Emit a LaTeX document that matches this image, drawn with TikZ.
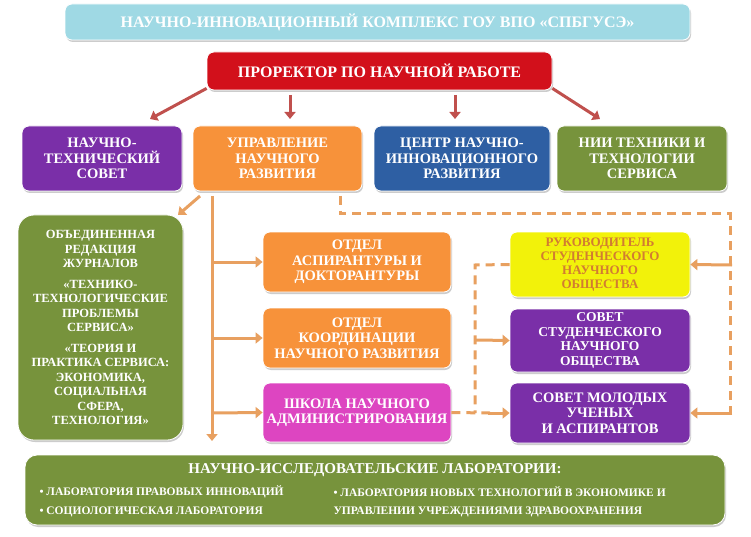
\documentclass[tikz,border=0pt]{standalone}
\usepackage{fontspec}
\setmainfont{Liberation Serif}
\usetikzlibrary{arrows.meta,shadows}
\definecolor{tit}{HTML}{9FD9E4}
\definecolor{redb}{HTML}{D2101B}
\definecolor{purp}{HTML}{7A2FA8}
\definecolor{orng}{HTML}{F7923A}
\definecolor{blu}{HTML}{2E5FA3}
\definecolor{grn}{HTML}{77933C}
\definecolor{pink}{HTML}{DD45C1}
\definecolor{yel}{HTML}{F2F20A}
\definecolor{arr}{HTML}{C0504D}
\definecolor{oarr}{HTML}{E8A060}
\begin{document}
\begin{tikzpicture}[x=1pt,y=-1pt,
 box/.style={draw=white,line width=0.8pt,rounded corners=7pt,text=white,font=\bfseries\fontsize{14.5}{15.5}\selectfont,align=center,drop shadow={shadow xshift=1pt,shadow yshift=-2pt,opacity=0.4},inner sep=2pt},
 rarr/.style={draw=arr,line width=3pt,-{Triangle[length=7pt,width=11pt]}},
 oline/.style={draw=oarr,line width=3pt},
 oar/.style={oline,-{Triangle[length=7pt,width=11pt]}},
 dl/.style={draw=oarr,line width=3pt,dash pattern=on 9pt off 6pt}]
\useasboundingbox (0,0) rectangle (751,537);
\fill[white] (0,0) rectangle (751,537);
\node[box,fill=tit,minimum width=625,minimum height=36,font=\bfseries\fontsize{16}{16}\selectfont] (t) at (377.5,22) {НАУЧНО-ИННОВАЦИОННЫЙ КОМПЛЕКС ГОУ ВПО «СПБГУСЭ»};
\node[box,fill=redb,minimum width=345,minimum height=38,font=\bfseries\fontsize{16}{16}\selectfont] (p) at (379.5,71) {ПРОРЕКТОР ПО НАУЧНОЙ РАБОТЕ};
\node[box,fill=purp,minimum width=160,minimum height=65] (a1) at (102,158.5) {НАУЧНО-\\ТЕХНИЧЕСКИЙ\\СОВЕТ};
\node[box,fill=orng,minimum width=169,minimum height=65] (a2) at (277.5,158.5) {УПРАВЛЕНИЕ\\НАУЧНОГО\\РАЗВИТИЯ};
\node[box,fill=blu,minimum width=176,minimum height=65] (a3) at (462,158.5) {ЦЕНТР НАУЧНО-\\ИННОВАЦИОННОГО\\РАЗВИТИЯ};
\node[box,fill=grn,minimum width=170,minimum height=65] (a4) at (642,158.5) {НИИ ТЕХНИКИ И\\ТЕХНОЛОГИИ\\СЕРВИСА};
\node[box,fill=grn,minimum width=165,minimum height=225,font=\bfseries\fontsize{12.5}{14.5}\selectfont,rounded corners=16pt] (g) at (100.5,327.5) {ОБЪЕДИНЕННАЯ\\РЕДАКЦИЯ\\ЖУРНАЛОВ\\[6pt]«ТЕХНИКО-\\ТЕХНОЛОГИЧЕСКИЕ\\ПРОБЛЕМЫ\\СЕРВИСА»\\[6pt]«ТЕОРИЯ И\\ПРАКТИКА СЕРВИСА:\\ЭКОНОМИКА,\\СОЦИАЛЬНАЯ\\СФЕРА,\\ТЕХНОЛОГИЯ»};
\node[box,fill=orng,minimum width=188,minimum height=60] (o1) at (357,262) {ОТДЕЛ\\АСПИРАНТУРЫ И\\ДОКТОРАНТУРЫ};
\node[box,fill=orng,minimum width=188,minimum height=60] (o2) at (357,338) {ОТДЕЛ\\КООРДИНАЦИИ\\НАУЧНОГО РАЗВИТИЯ};
\node[box,fill=pink,minimum width=188,minimum height=59] (o3) at (357,412.5) {ШКОЛА НАУЧНОГО\\АДМИНИСТРИРОВАНИЯ};
\node[box,fill=yel,text=orng!85!black,minimum width=180,minimum height=65,font=\bfseries\fontsize{13}{14}\selectfont] (s1) at (600,264.5) {РУКОВОДИТЕЛЬ\\СТУДЕНЧЕСКОГО\\НАУЧНОГО\\ОБЩЕСТВА};
\node[box,fill=purp,minimum width=180,minimum height=63,font=\bfseries\fontsize{13.5}{14.5}\selectfont] (s2) at (600,340.5) {СОВЕТ\\СТУДЕНЧЕСКОГО\\НАУЧНОГО\\ОБЩЕСТВА};
\node[box,fill=purp,minimum width=180,minimum height=60] (s3) at (600,413) {СОВЕТ МОЛОДЫХ\\УЧЕНЫХ\\И АСПИРАНТОВ};
\node[box,fill=grn,minimum width=700,minimum height=70,rounded corners=12pt] (b) at (375,490) {};
\node[text=white,font=\bfseries\fontsize{15}{15}\selectfont] (bt) at (375,470) {НАУЧНО-ИССЛЕДОВАТЕЛЬСКИЕ ЛАБОРАТОРИИ:};
\node[text=white,font=\bfseries\fontsize{11.5}{11.5}\selectfont,anchor=west] (b1) at (36,492) {• ЛАБОРАТОРИЯ ПРАВОВЫХ ИННОВАЦИЙ};
\node[text=white,font=\bfseries\fontsize{11.5}{11.5}\selectfont,anchor=west] (b2) at (36,512) {• СОЦИОЛОГИЧЕСКАЯ ЛАБОРАТОРИЯ};
\node[text=white,font=\bfseries\fontsize{11.5}{11.5}\selectfont,anchor=west] (b3) at (330,492) {• ЛАБОРАТОРИЯ НОВЫХ ТЕХНОЛОГИЙ В ЭКОНОМИКЕ И};
\node[text=white,font=\bfseries\fontsize{11.5}{11.5}\selectfont,anchor=west] (b4) at (330,512) {УПРАВЛЕНИИ УЧРЕЖДЕНИЯМИ ЗДРАВООХРАНЕНИЯ};
% red arrows
\draw[rarr] (p.south west) ++(0,-2) -- (150,119);
\draw[rarr] (290,95) -- (290,119);
\draw[rarr] (455,95) -- (455,119);
\draw[rarr] (p.south east) ++(0,-2) -- (600,119);
% orange
\draw[oar] (200,196) -- (178,215);
\draw[oar] (212,196) -- (212,441);
\draw[oar] (212,262) -- (o1.west);
\draw[oar] (212,338) -- (o2.west);
\draw[oar] (212,413) -- (o3.west);
% dashed
\draw[dl] (340,196) -- (340,214) -- (730,214) -- (730,413);
\draw[oar] (732,265) -- (s1.east);
\draw[oar] (732,413) -- (s3.east);
\draw[dl] (s1.west) -- (475,265) -- (475,413);
\draw[oar] (476,340) -- (s2.west);
\draw[dl] (o3.east) -- (490,413);
\draw[oar] (488,413) -- (s3.west);
\end{tikzpicture}
\end{document}
